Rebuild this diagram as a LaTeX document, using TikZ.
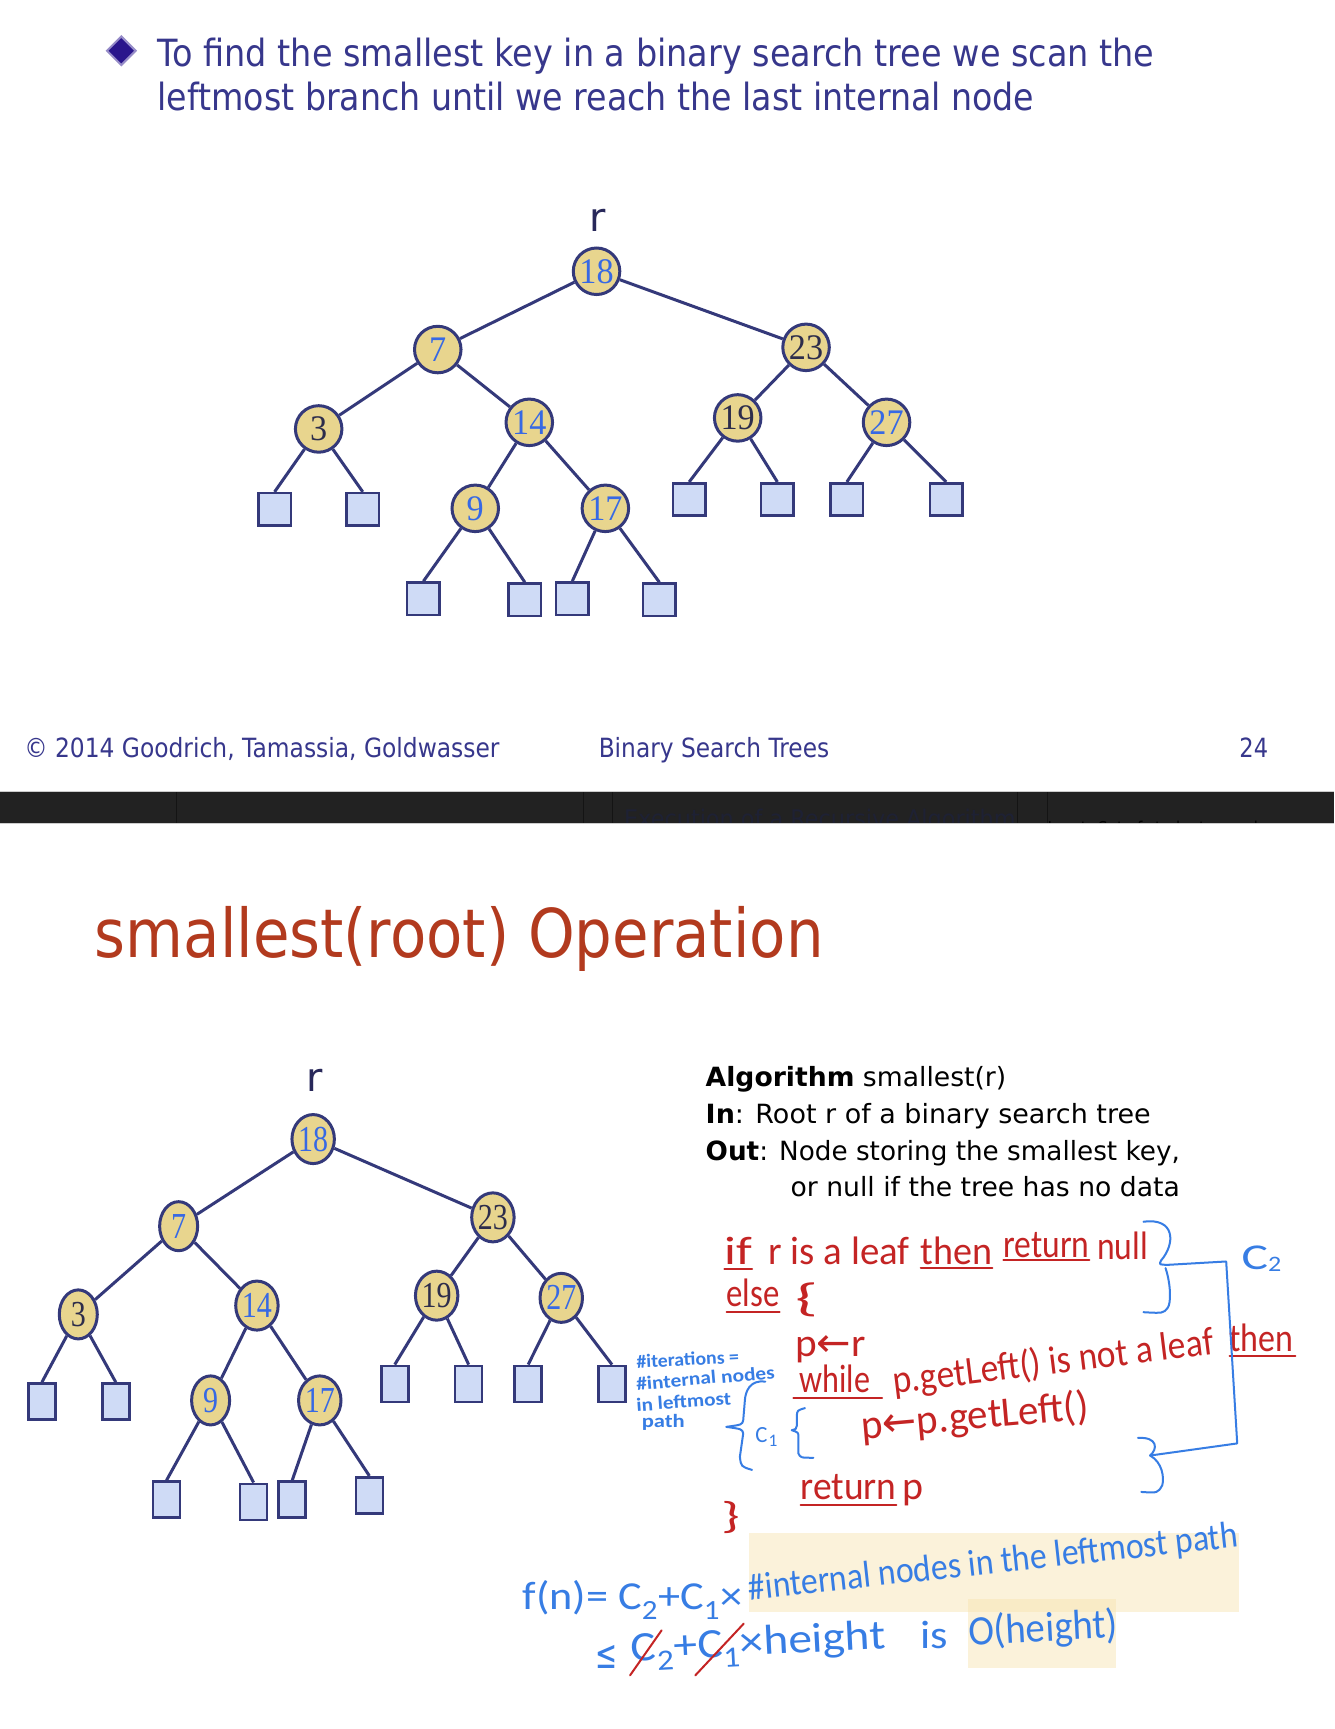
\documentclass[tikz,border=0pt]{standalone}
\usepackage{fontspec}
\usepackage{graphicx}
\setmainfont{DejaVu Sans}
\newfontfamily\hw{Carlito}
\newfontfamily\dv{DejaVu Sans}
\newfontfamily\sr{Liberation Serif}
\usetikzlibrary{shapes.geometric}

\definecolor{slideblue}{RGB}{55,55,140}
\definecolor{navy}{RGB}{52,57,122}
\definecolor{khaki}{RGB}{232,213,142}
\definecolor{leafblue}{RGB}{207,219,246}
\definecolor{digblue}{RGB}{55,105,228}
\definecolor{digdark}{RGB}{45,45,75}
\definecolor{titlered}{RGB}{178,58,30}
\definecolor{hred}{RGB}{196,36,36}
\definecolor{hblue}{RGB}{55,125,228}
\definecolor{hilite}{RGB}{247,228,175}
\definecolor{band}{RGB}{34,34,34}
\definecolor{bandline}{RGB}{20,20,20}
\definecolor{bandtext}{RGB}{30,33,52}
\definecolor{rcol}{RGB}{40,40,90}
\definecolor{bulfill}{RGB}{42,22,140}
\definecolor{bulline}{RGB}{150,140,200}

\newcommand\fs[1]{\edef\fsz{\fpeval{#1*1.1025}}\edef\fsb{\fpeval{#1*1.35}}\fontsize{\fsz pt}{\fsb pt}\selectfont}
\newlength\fitlen
\newcommand\fitw[2]{\settowidth\fitlen{#2}\pgfmathsetmacro\fitsx{#1*1.1025/\fitlen}\scalebox{\fitsx}[1]{#2}}
\newcommand\dgt[1]{\sr\fontsize{36pt}{36pt}\selectfont\scalebox{0.95}[1]{#1}}
\newcommand\dgb[1]{\sr\fontsize{30pt}{30pt}\selectfont\scalebox{1}[1.22]{#1}}

\begin{document}
\begin{tikzpicture}[x=1.1025pt,y=-1.1025pt,
  txt/.style={inner sep=0pt,outer sep=0pt,anchor=base west},
  tn/.style={circle,draw=navy,fill=khaki,line width=3pt,minimum size=46.5pt,inner sep=0pt},
  tleaf/.style={rectangle,draw=navy,fill=leafblue,line width=2.6pt,minimum width=32.5pt,minimum height=32.5pt,inner sep=0pt},
  bn/.style={ellipse,draw=navy,fill=khaki,line width=3pt,minimum width=38pt,minimum height=49pt,inner sep=0pt},
  bleaf/.style={rectangle,draw=navy,fill=leafblue,line width=2.6pt,minimum width=27pt,minimum height=36pt,inner sep=0pt},
  tedge/.style={draw=navy,line width=3pt},
  redline/.style={draw=hred,line width=2pt,line cap=round},
  blueline/.style={draw=hblue,line width=2pt,line cap=round,line join=round},
  hl/.style={fill=hilite,fill opacity=0.45}]

\path[use as bounding box,fill=white] (0,0) rectangle (1210,1568);

% ---------------- top slide ----------------
\filldraw[fill=bulfill,draw=bulline,line width=2pt] (110,33) -- (123,46) -- (110,59) -- (97,46) -- cycle;
\node[txt,text=slideblue] (b1) at (143,60) {\fs{34}\fitw{904}{To find the smallest key in a binary search tree we scan the}};
\node[txt,text=slideblue] (b2) at (143,100) {\fs{34}\fitw{795}{leftmost branch until we reach the last internal node}};

\node[txt,text=rcol,anchor=base] (tr) at (542,210) {\fs{36}r};
\node[tn,text=digblue] (t18) at (541,246) {\dgt{18}};
\node[tn,text=digblue] (t7) at (397,317) {\dgt{7}};
\node[tn,text=digdark] (t23) at (731,315) {\dgt{23}};
\node[tn,text=digdark] (t3) at (289,389) {\dgt{3}};
\node[tn,text=digblue] (t14) at (480,383) {\dgt{14}};
\node[tn,text=digdark] (t19) at (669,379) {\dgt{19}};
\node[tn,text=digblue] (t27) at (804,383) {\dgt{27}};
\node[tn,text=digblue] (t9) at (431,461) {\dgt{9}};
\node[tn,text=digblue] (t17) at (549,461) {\dgt{17}};
\node[tleaf] (t3a) at (249,462) {};
\node[tleaf] (t3b) at (329,462) {};
\node[tleaf] (t19a) at (625,453) {};
\node[tleaf] (t19b) at (705,453) {};
\node[tleaf] (t27a) at (768,453) {};
\node[tleaf] (t27b) at (858,453) {};
\node[tleaf] (t9a) at (384,543) {};
\node[tleaf] (t9b) at (476,544) {};
\node[tleaf] (t17a) at (519,543) {};
\node[tleaf] (t17b) at (598,544) {};
\draw[tedge] (t18) -- (t7);
\draw[tedge] (t18) -- (t23);
\draw[tedge] (t7) -- (t3);
\draw[tedge] (t7) -- (t14);
\draw[tedge] (t23) -- (t19);
\draw[tedge] (t23) -- (t27);
\draw[tedge] (t14) -- (t9);
\draw[tedge] (t14) -- (t17);
\draw[tedge] (t3) -- (t3a.north);
\draw[tedge] (t3) -- (t3b.north);
\draw[tedge] (t19) -- (t19a.north);
\draw[tedge] (t19) -- (t19b.north);
\draw[tedge] (t27) -- (t27a.north);
\draw[tedge] (t27) -- (t27b.north);
\draw[tedge] (t9) -- (t9a.north);
\draw[tedge] (t9) -- (t9b.north);
\draw[tedge] (t17) -- (t17a.north);
\draw[tedge] (t17) -- (t17b.north);

\node[txt,text=slideblue] (f1) at (22,687) {\fs{24}\fitw{431}{© 2014 Goodrich, Tamassia, Goldwasser}};
\node[txt,text=slideblue] (f2) at (543,687) {\fs{24}\fitw{209}{Binary Search Trees}};
\node[txt,text=slideblue] (f3) at (1124,687) {\fs{24}\fitw{26}{24}};

% ---------------- dark band ----------------
\fill[band] (0,717.5) rectangle (1210,746.5);
\begin{scope}
\clip (0,717.5) rectangle (1210,746.5);
\node[txt,text=bandtext] (e1) at (566,750) {\fs{22}\fitw{355}{Execution of a Recursive Algorithm}};
\node[txt,text=black] (e2) at (950,757) {\fs{16}\fitw{198}{Input: Set of student records}};
\end{scope}
\foreach \xx in {160.5,528.8,555.8,923,949.6} \draw[bandline,line width=1pt] (\xx,717.5) -- (\xx,746.5);
\draw[gray!40,line width=1.2pt] (0,717.5) -- (1210,717.5);
\draw[gray!40,line width=1.2pt] (0,746.5) -- (1210,746.5);

% ---------------- bottom slide ----------------
\node[txt,text=titlered] (title) at (86,868) {\fs{61}\fitw{661}{smallest(root) Operation}};

\node[txt,text=rcol,anchor=base] (br) at (285,990) {\fs{36}r};
\node[bn,text=digblue] (b18) at (284,1033) {\dgb{18}};
\node[bn,text=digblue] (b7) at (162,1112) {\dgb{7}};
\node[bn,text=digdark] (b23) at (447,1104) {\dgb{23}};
\node[bn,text=digdark] (b3) at (71,1192) {\dgb{3}};
\node[bn,text=digblue] (b14) at (233,1184) {\dgb{14}};
\node[bn,text=digdark] (b19) at (396,1175) {\dgb{19}};
\node[bn,text=digblue] (b27) at (509,1177) {\dgb{27}};
\node[bn,text=digblue] (b9) at (191,1270) {\dgb{9}};
\node[bn,text=digblue] (b17) at (290,1270) {\dgb{17}};
\node[bleaf] (b3a) at (38,1271) {};
\node[bleaf] (b3b) at (105,1271) {};
\node[bleaf] (b19a) at (358,1255) {};
\node[bleaf] (b19b) at (425,1255) {};
\node[bleaf] (b27a) at (479,1255) {};
\node[bleaf] (b27b) at (555,1255) {};
\node[bleaf] (b9a) at (151,1360) {};
\node[bleaf] (b9b) at (230,1362) {};
\node[bleaf] (b17a) at (265,1360) {};
\node[bleaf] (b17b) at (335,1356) {};
\draw[tedge] (b18) -- (b7);
\draw[tedge] (b18) -- (b23);
\draw[tedge] (b7) -- (b3);
\draw[tedge] (b7) -- (b14);
\draw[tedge] (b23) -- (b19);
\draw[tedge] (b23) -- (b27);
\draw[tedge] (b14) -- (b9);
\draw[tedge] (b14) -- (b17);
\draw[tedge] (b3) -- (b3a.north);
\draw[tedge] (b3) -- (b3b.north);
\draw[tedge] (b19) -- (b19a.north);
\draw[tedge] (b19) -- (b19b.north);
\draw[tedge] (b27) -- (b27a.north);
\draw[tedge] (b27) -- (b27b.north);
\draw[tedge] (b9) -- (b9a.north);
\draw[tedge] (b9) -- (b9b.north);
\draw[tedge] (b17) -- (b17a.north);
\draw[tedge] (b17) -- (b17b.north);

% algorithm text
\node[txt] (a1) at (640,985.6) {\fs{24}\fitw{272.6}{\textbf{Algorithm} smallest(r)}};
\node[txt] (a2) at (640,1019) {\fs{24}\fitw{403.5}{\textbf{In}: Root r of a binary search tree}};
\node[txt] (a3) at (640,1052) {\fs{24}\fitw{430}{\textbf{Out}: Node storing the smallest key,}};
\node[txt] (a4) at (717,1085) {\fs{24}\fitw{353}{or null if the tree has no data}};

% highlights
\fill[hl] (679,1390) rectangle (1124,1462);
\fill[hl] (878,1450) rectangle (1012,1513);

% red handwriting
\begin{scope}[every node/.append style={txt,text=hred,font=\hw}]
\node (if) at (657,1147) {\fs{36}\fitw{25}{if}};
\node (rl) at (697,1147) {\fs{36}\fitw{128}{r is a leaf}};
\node (th1) at (835,1147) {\fs{36}\fitw{65}{then}};
\node (ret1) at (910,1140) {\fs{36}\fitw{78}{return}};
\node (nl) at (995,1142) {\fs{36}\fitw{46}{null}};
\node (els) at (659,1185) {\fs{36}\fitw{48}{else}};
\node (ob1) at (721,1189) {\fs{36}\fitw{21}{\{}};
\node (pr) at (721,1230) {\fs{36}\fitw{64}{p{\dv ←}r}};
\node (wh) at (725,1263) {\fs{36}\fitw{64}{while}};
\node[rotate=7] (cond) at (811,1264) {\fs{36}\fitw{293}{p.getLeft() is not a leaf}};
\node (th2) at (1115,1226) {\fs{36}\fitw{58}{then}};
\node[rotate=5] (asg) at (782,1305) {\fs{38}\fitw{207}{p{\dv ←}p.getLeft()}};
\node (ret2) at (726,1360) {\fs{36}\fitw{87}{return}};
\node (rp) at (818,1360) {\fs{36}\fitw{19}{p}};
\node (cb) at (654,1386) {\fs{34}\fitw{17}{\}}};
\end{scope}
\draw[redline] ([yshift=-4pt]if.south west) -- ([yshift=-4pt]if.south east);
\draw[redline] ([yshift=-3pt]th1.south west) -- ([yshift=-3pt]th1.south east);
\draw[redline] ([yshift=-3pt]ret1.south west) -- ([yshift=-3pt]ret1.south east);
\draw[redline] ([yshift=-5pt]els.south west) -- ([yshift=-5pt]els.south east);
\draw[redline] ([xshift=-6pt,yshift=-5pt]wh.south west) -- ([xshift=12pt,yshift=-5pt]wh.south east);
\draw[redline] ([yshift=-4pt]th2.south west) -- ([xshift=2pt,yshift=-4pt]th2.south east);
\draw[redline] ([yshift=-5pt]ret2.south west) -- ([yshift=-5pt]ret2.south east);

% blue handwriting
\coordinate (c2a) at (1060,1147);
\coordinate (c2b) at (1043,1320);
\draw[blueline] (1037,1108) .. controls (1066,1104) and (1066,1128) .. (1053,1143) .. controls (1051,1147) .. (c2a);
\draw[blueline] (1057,1150) .. controls (1062,1165) and (1062,1182) .. (1059,1186) .. controls (1055,1191) .. (1037,1190);
\draw[blueline] (c2a) -- (1112,1144) -- (1122,1309) -- (c2b);
\draw[blueline] (1032,1304) .. controls (1050,1303) and (1050,1314) .. (c2b) .. controls (1054,1326) and (1056,1340) .. (1054,1347) .. controls (1050,1354) .. (1035,1353);

\begin{scope}[every node/.append style={txt,text=hblue,font=\hw}]
\node (c2l) at (1126,1151) {\fs{33}\fitw{24}{C}};
\node (c2s) at (1150,1153) {\fs{20}\fitw{12}{2}};
\node[rotate=3] (n1) at (577.5,1241) {\bfseries\fs{17}\fitw{93}{\#iterations =}};
\node[rotate=5] (n2) at (577.5,1261) {\bfseries\fs{17}\fitw{126}{\#internal nodes}};
\node[rotate=4] (n3) at (577.5,1280) {\bfseries\fs{17}\fitw{86}{in leftmost}};
\node (n4) at (582,1295) {\bfseries\fs{17}\fitw{39}{path}};
\node (c1l) at (685,1308) {\fs{21}\fitw{11}{C}};
\node (c1s) at (697,1312) {\fs{16}\fitw{8}{1}};
\node (fa) at (474,1460) {\fs{36}\fitw{199}{f(n)= C\textsubscript{2}+C\textsubscript{1}×}};
\node[rotate=6.2] (fb) at (680,1451) {\fs{34}\fitw{446}{\#internal nodes in the leftmost path}};
\node (g0) at (540,1513) {\dv\fs{36}\fitw{20}{≤}};
\node[rotate=3] (g1) at (573,1507) {\fs{38}\fitw{231}{C\textsubscript{2}+C\textsubscript{1}×height}};
\node (g2) at (835,1495) {\fs{36}\fitw{25}{is}};
\node[rotate=3] (g3) at (879,1492) {\fs{38}\fitw{135}{O(height)}};
\end{scope}
\draw[blueline] (694,1253) .. controls (680,1251) and (676,1262) .. (675.5,1270) -- (674,1288) .. controls (673,1292) .. (658.6,1294) .. controls (673,1296) .. (674,1300) -- (671,1321) .. controls (672,1330) .. (682,1333);
\draw[blueline] (730,1277) .. controls (723,1279) .. (722.6,1284) -- (722.6,1293) .. controls (722,1296) .. (718,1297) .. controls (724,1299) .. (724,1303) -- (724,1318) .. controls (726,1322) .. (737.7,1322);
\draw[redline] (571.4,1519.3) -- (600,1478.5);
\draw[redline] (630.6,1519.3) -- (674.5,1472.4);
\end{tikzpicture}
\end{document}
